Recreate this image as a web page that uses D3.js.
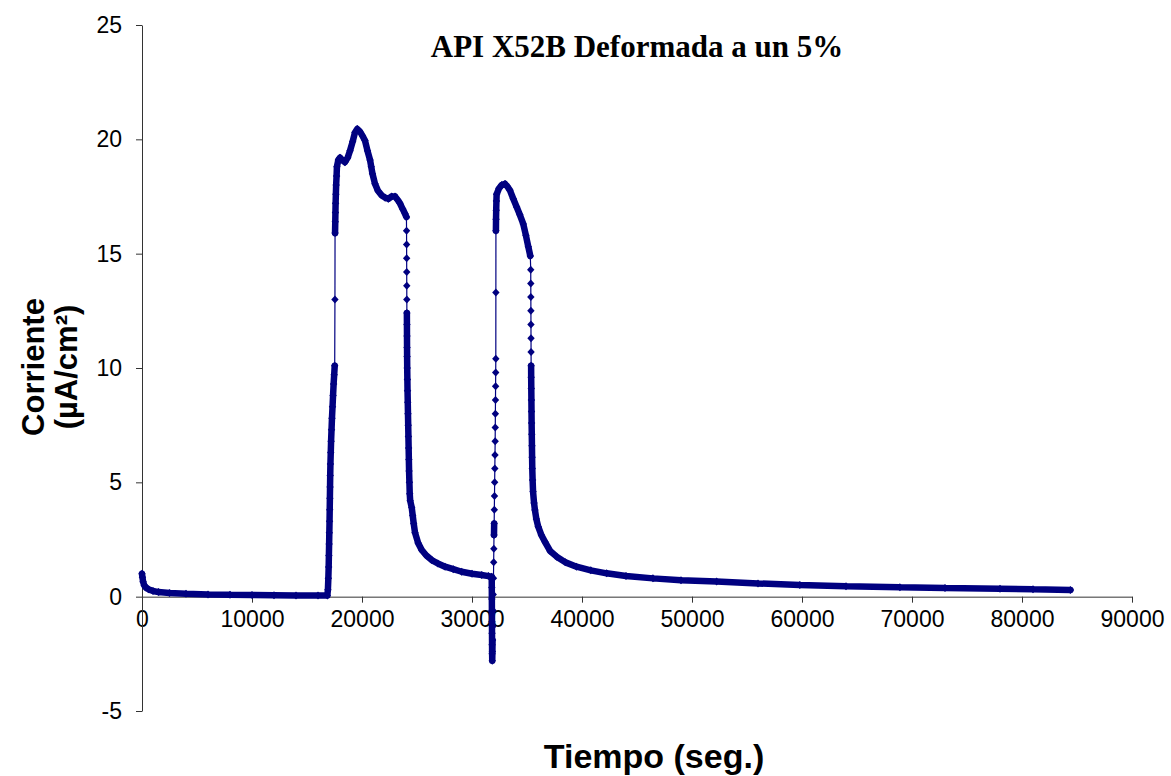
<!DOCTYPE html>
<meta charset="utf-8">
<head>
  <title>API X52B Deformada a un 5%</title>
  <script src="https://cdn.jsdelivr.net/npm/d3@7"></script>
  <style>
    body { margin: 0; background: #fff; }
    .tick text { font-family: "Liberation Sans", Arial, sans-serif; font-size: 23px; fill: #000; }
    .axis path, .axis line { stroke: #333; }
  </style>
</head>
<body>
<div id="chart"></div>
<script>
// chart values
const tiempo = [
  0, 40, 100, 200, 350, 600, 1000, 1500, 2500, 4000, 6000, 8000, 10000, 12000, 14000, 16000, 16850,
  16900, 16940, 16970, 16990, 17010, 17030, 17050, 17065, 17080, 17095, 17110, 17130, 17160, 17190,
  17230, 17270, 17320, 17370, 17420, 17470, 17520, 17540, 17550,
  17570, 17585, 17600, 17625, 17650, 17690, 17720, 17850, 18000, 18200, 18450, 18700, 18910, 19150,
  19360, 19570, 19800, 20050, 20270, 20500, 20730, 20840, 20950, 21180, 21450, 21790, 22100, 22390,
  22700, 23000, 23250, 23450, 23700, 23910, 24040,
  24050, 24055, 24060, 24065, 24070, 24075, 24080, 24085, 24090, 24095, 24100, 24110, 24125, 24140,
  24160, 24180, 24200, 24220, 24240, 24260, 24280, 24310, 24340, 24380, 24520, 24610, 24700, 24820,
  25100, 25430, 25850, 26340, 26900, 27550, 28300, 29060, 30000, 30880, 31500, 31790,
  31800, 31805, 31810, 31815, 31820, 31825, 31830, 31840,
  31855, 31870, 31890, 31910, 31930, 31950, 31970, 31985, 32000, 32015, 32030, 32045, 32060, 32075,
  32090, 32105, 32115, 32125, 32135, 32145, 32155, 32165, 32170, 32175,
  32185, 32200, 32220, 32240, 32450, 32700, 33000, 33200, 33450, 33750, 34060, 34350, 34660, 34900,
  35120, 35300,
  35340, 35345, 35350, 35355, 35360, 35365, 35370, 35375, 35380, 35390, 35400, 35410, 35420, 35435,
  35450, 35465, 35480, 35510, 35550, 35640, 35720, 35850, 36020, 36300, 36630, 37100, 37700, 38500,
  39500, 40800, 42240, 44000, 46450, 49000, 52240, 56000, 59800, 64000, 68900, 73000, 78000, 81000, 84400
];
const corriente = [
  1.0, 0.85, 0.65, 0.5, 0.4, 0.32, 0.25, 0.2, 0.16, 0.13, 0.1, 0.08, 0.07, 0.06, 0.05, 0.05, 0.05,
  0.3, 0.8, 1.3, 1.8, 2.3, 2.8, 3.3, 3.8, 4.3, 4.8, 5.3, 5.8, 6.3, 6.8,
  7.3, 7.8, 8.3, 8.8, 9.3, 9.7, 10.1, 13.0, 15.9,
  16.4, 16.8, 17.2, 17.6, 18.0, 18.4, 18.8, 19.1, 19.2, 19.1, 19.0, 19.2, 19.5, 19.9,
  20.3, 20.45, 20.35, 20.15, 19.95, 19.5, 19.1, 18.8, 18.5, 18.06, 17.75, 17.55, 17.45, 17.4,
  17.5, 17.5, 17.35, 17.2, 16.95, 16.75, 16.6,
  16.0, 15.4, 14.8, 14.2, 13.6, 13.0, 12.4, 11.9, 11.4, 10.9, 10.5, 10.0, 9.5, 9.0,
  8.5, 8.0, 7.5, 7.0, 6.5, 6.0, 5.5, 5.0, 4.5, 4.2, 3.9, 3.55, 3.2, 2.8,
  2.35, 2.04, 1.8, 1.6, 1.45, 1.31, 1.2, 1.09, 1.0, 0.95, 0.9, 0.87,
  0.4, -0.1, -0.6, -1.1, -1.6, -2.1, -2.5, -2.8,
  -2.4, -1.9, -1.3, -0.6, 0.1, 0.8, 1.5, 2.1, 2.7, 3.2, 3.8, 4.4, 5.0, 5.6,
  6.2, 6.8, 7.4, 8.0, 8.6, 9.2, 9.8, 10.4, 13.3, 16.0,
  16.5, 16.9, 17.3, 17.6, 17.85, 18.0, 18.05, 17.95, 17.77, 17.4, 17.04, 16.7, 16.3, 15.8,
  15.3, 14.9,
  14.3, 13.7, 13.1, 12.5, 11.9, 11.3, 10.7, 10.1, 9.6, 9.1, 8.6, 8.1, 7.6, 7.1,
  6.6, 6.1, 5.6, 5.1, 4.6, 4.1, 3.79, 3.4, 3.06, 2.7, 2.4, 2.0, 1.75, 1.5,
  1.31, 1.15, 1.02, 0.9, 0.8, 0.72, 0.66, 0.58, 0.51, 0.46, 0.41, 0.38, 0.35, 0.32, 0.29
];
const xTicks = [0, 10000, 20000, 30000, 40000, 50000, 60000, 70000, 80000, 90000];
const yTicks = [-5, 0, 5, 10, 15, 20, 25];
const titulo = "API X52B Deformada a un 5%";
const ejeX = "Tiempo (seg.)";
const ejeY = ["Corriente", "(µA/cm²)"];

const width = 1171, height = 776;
const margin = {top: 25, right: 39, bottom: 65, left: 142};
const color = "#000080";

const svg = d3.select("#chart").append("svg")
    .attr("width", width).attr("height", height);

const x = d3.scaleLinear().domain([0, 90000]).range([margin.left, width - margin.right]);
const y = d3.scaleLinear().domain([-5, 25]).range([height - margin.bottom, margin.top]);

// plain hyphen for negatives, like the original
const fmt = d => String(d);

// axes: x axis crosses at y = 0
svg.append("g").attr("class", "axis")
    .attr("transform", "translate(0," + y(0) + ")")
    .call(d3.axisBottom(x).tickValues(xTicks).tickSize(6).tickSizeOuter(0).tickPadding(8)
          .tickFormat(fmt));
svg.append("g").attr("class", "axis")
    .attr("transform", "translate(" + x(0) + ",0)")
    .call(d3.axisLeft(y).tickValues(yTicks).tickSize(6).tickSizeOuter(0).tickPadding(14)
          .tickFormat(fmt));

// series
const pts = tiempo.map((t, i) => [x(t), y(corriente[i])]);
svg.append("path")
    .attr("d", d3.line()(pts))
    .attr("fill", "none").attr("stroke", color).attr("stroke-width", 1.2);

// where samples are dense the markers merge into a thick band
let dense = "";
for (let i = 0; i < pts.length - 1; i++) {
  if (Math.abs(pts[i + 1][1] - pts[i][1]) <= 12.5) {
    dense += "M" + pts[i][0] + "," + pts[i][1] + "L" + pts[i + 1][0] + "," + pts[i + 1][1];
  }
}
svg.append("path")
    .attr("d", dense)
    .attr("fill", "none").attr("stroke", color)
    .attr("stroke-width", 6.5).attr("stroke-linecap", "round").attr("stroke-linejoin", "round");

svg.append("g").selectAll("path")
    .data(pts)
    .enter().append("path")
    .attr("transform", d => "translate(" + d[0] + "," + d[1] + ")")
    .attr("d", "M0,-4L3.7,0L0,4L-3.7,0Z")
    .attr("fill", color);

// texts
svg.append("text")
    .attr("x", 637).attr("y", 57)
    .attr("text-anchor", "middle")
    .style("font-family", "'Liberation Serif', 'Times New Roman', serif")
    .style("font-weight", "bold").style("font-size", "31px")
    .text(titulo);

svg.append("text")
    .attr("x", 654).attr("y", 768)
    .attr("text-anchor", "middle")
    .style("font-family", "'Liberation Sans', Arial, sans-serif")
    .style("font-weight", "bold").style("font-size", "34px")
    .text(ejeX);

ejeY.forEach(function(s, i) {
  svg.append("text")
      .attr("transform", "translate(" + (44 + i * 33) + ",367) rotate(-90)")
      .attr("text-anchor", "middle")
      .style("font-family", "'Liberation Sans', Arial, sans-serif")
      .style("font-weight", "bold").style("font-size", "31px")
      .text(s);
});
</script>
</body>
</html>
